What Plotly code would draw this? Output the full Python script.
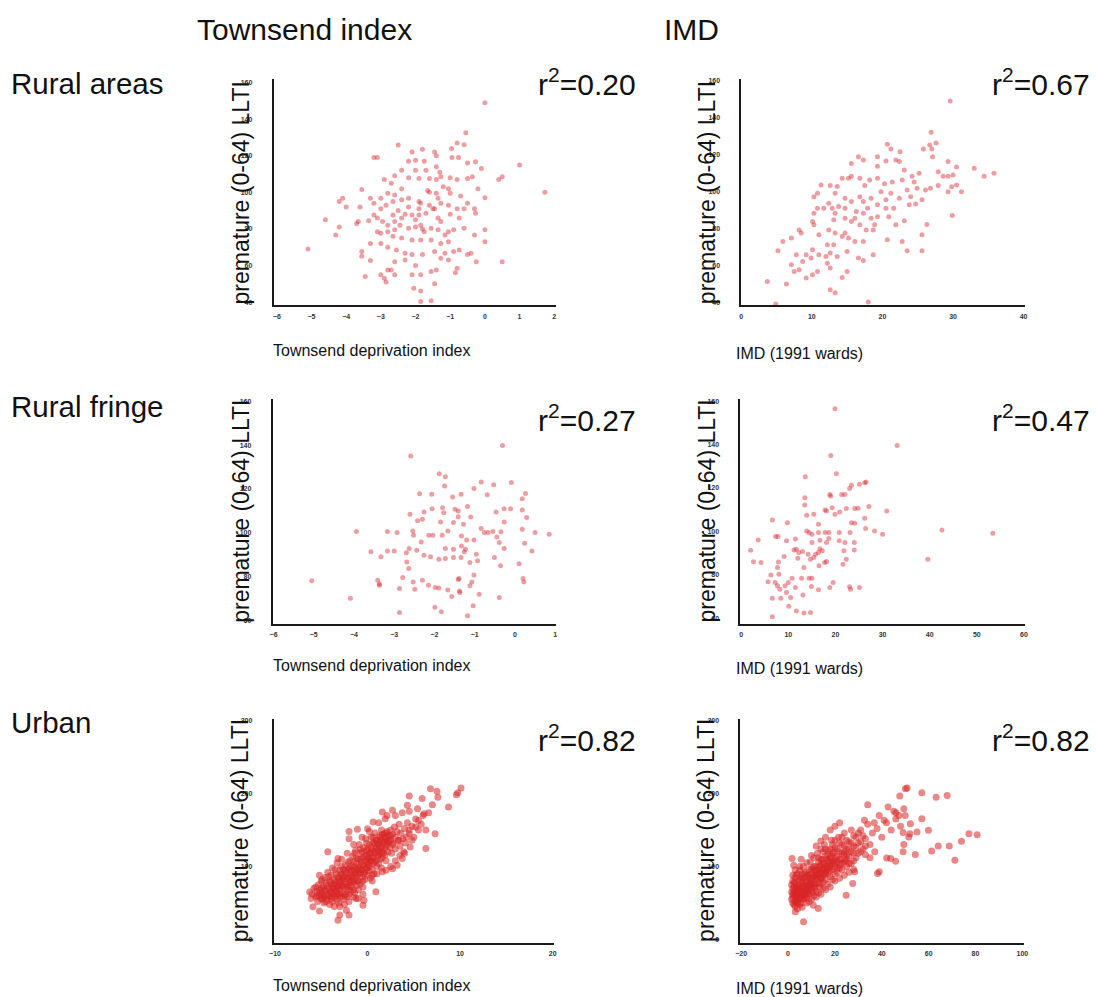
import plotly.graph_objects as go

W, H = 1096, 997

# ---------------- data ----------------
rural_townsend = [
 (0.0,149),(-0.55,132.5),(-2.5,125.8),(-2.1,122),(-1.8,123.6),(-1.45,122),(-0.96,124),(-0.8,127),(-0.6,126),
 (-3.2,119),(-3.1,119),(-2.2,117),(-2.0,117.5),(-1.75,117),(-1.4,114),(-0.95,119),(-0.76,119),(-0.5,116),
 (-0.27,116.7),(-0.1,113),(1.0,115),(0.4,107),(0.5,108.5),(1.73,100),(0.0,97),(-2.9,107),(-2.6,109),(-2.4,112),
 (-2.0,112),(-1.7,112),(-1.3,111),(-1.27,108.5),(-1.0,108),(-0.8,107),(-0.5,107.6),(-0.36,108.5),(-2.2,108),
 (-1.9,107.6),(-1.6,107.6),(-1.4,107),(-3.55,101.6),(-4.1,96.7),(-4.2,95),(-4.0,92),(-3.3,96.7),(-3.2,94),
 (-3.0,96.7),(-2.8,99.5),(-2.6,98.5),(-3.0,91),(-2.85,93),(-2.65,95),(-2.4,96),(-2.2,96.7),(-2.2,92),(-1.9,91),
 (-1.85,94),(-1.65,101),(-1.6,100),(-1.4,99.5),(-1.35,96.7),(-1.05,102),(-1.0,99.5),(-1.27,94),(-1.05,93),
 (-0.8,91),(-0.6,91),(-0.3,91),(-0.27,88.5),(-0.74,86),(-1.45,91),(-1.5,91),(-1.9,87.6),(-1.7,88.5),(-1.35,86),
 (-1.27,84),(-2.65,87.6),(-2.4,86),(-2.1,87.6),(-3.2,87.6),(-4.6,85),(-3.65,84),(-3.7,83),(-3.35,84.4),(-3.1,86),
 (-2.95,84),(-2.8,82),(-2.45,82),(-2.2,80.4),(-2.0,81),(-1.85,82),(-1.75,78.5),(-1.55,80.4),(-1.35,79.5),
 (-1.05,78.5),(-0.9,79.5),(-0.6,80.4),(-0.3,76.7),(0.0,79.5),(0.0,73),(-4.2,81),(-4.3,76.7),(-3.1,78.5),
 (-3.0,77.6),(-2.8,78.5),(-2.6,79.5),(-2.65,76),(-2.4,75),(-2.1,74),(-1.85,74),(-1.55,74),(-1.27,72),(-1.05,73),
 (-1.15,76.7),(-3.0,72),(-5.1,69),(-3.55,67.6),(-2.55,68.5),(-2.3,66.7),(-2.1,66),(-1.8,66),(-1.45,67.6),
 (-1.15,66.7),(-0.9,67.6),(-0.74,68.5),(-0.5,66),(-0.4,66.7),(-1.27,64),(-1.05,63),(-3.3,62.7),(-3.55,65),
 (-2.6,62),(-2.3,63),(-0.25,62),(0.5,62),(-2.0,60),(-2.8,57.6),(-2.7,57.6),(-1.55,56.7),(-1.4,57.6),(-0.8,58.5),
 (-0.85,56),(-3.45,54),(-3.0,55),(-2.9,53),(-2.6,55),(-2.1,55),(-1.85,55),(-1.45,50),(-2.85,51),(-2.05,47.6),
 (-1.85,46),(-1.85,40.3),(-1.55,40.7),(-2.5,90),(-2.3,88),(-2.0,85),(-1.8,80),(-2.6,84),(-1.9,95),(-1.6,93),
 (-2.4,102),(-2.7,105),(-1.2,103),(-0.7,98),(-1.0,88),(-3.3,72),(-2.8,70),(-0.5,94),(-0.2,102),(-3.6,92),(-1.4,120),
]

rural_imd = [
 (29.6,148.7),(26.9,131.8),(27.6,126),(26.7,125),(27,122.8),(25.8,122.8),(27.1,118.6),(20.7,125.3),(21.2,122.8),
 (22.5,121.3),(21.9,116.8),(22.4,116),(23.1,111.4),(20.5,116.3),(19.3,118.6),(16.6,118.6),(17.3,116.8),(15.6,115),
 (14.3,107),(15.2,107),(15.6,108),(12.6,103),(11.3,103.3),(10.3,97),(10.8,98.8),(13.3,98.8),(13.6,102.5),(16.8,107),
 (18.2,106),(19.3,107),(20.3,104),(21.4,105),(22.8,106),(24.2,108),(24.5,105),(23.5,100.6),(24.9,101.5),(26.1,100.6),
 (26.8,101.5),(27.9,103),(28.6,108),(29.3,108),(30,108.7),(30.5,113),(29.3,116),(33,112.3),(34.4,108),(35.8,109.6),
 (29.8,102.4),(30.5,103.3),(31.2,99.7),(29.3,99.7),(29.9,86.8),(26.3,82),(25.6,76.4),(25.6,67.7),(23.5,67.7),
 (22.8,72.8),(20.7,73.7),(21.9,81.8),(23.1,84),(23.8,92.6),(24.7,93),(25.6,95.3),(22.4,96.2),(20.5,95.3),(19.8,99.7),
 (21.2,98.8),(19.3,92.6),(20.5,90.8),(21.6,90.8),(20.9,86.2),(19.3,86.2),(18.4,85.4),(17.3,88),(16.3,89),(17.9,90.8),
 (17.3,94.4),(15.6,94.4),(14.7,96.2),(13.8,91.7),(12.9,90.8),(12.4,93.5),(10.8,90.8),(10.3,88),(10.1,83.6),(10.3,81.8),
 (11.7,90.8),(13.1,84.5),(14.7,85.4),(15.6,83.6),(16.1,85.4),(16.8,81.8),(17.7,79),(18.7,79),(18.9,81.8),(14.7,77.3),
 (13.3,77.3),(15.2,74.6),(14.3,75.5),(13.1,71),(12.2,71),(11.0,76.4),(12.4,79),(8.2,79),(8.5,77.3),(7.1,74.6),
 (5.9,72.8),(5.2,67.7),(7.8,65.6),(9.2,65.6),(10.1,68.3),(9.9,63.8),(11,65.6),(12,64.7),(12.6,66.5),(13.6,64.7),
 (15,67.4),(16.1,72.8),(17.3,72.8),(17.3,62.5),(16.6,63.8),(18.7,65.6),(12.2,61),(12.6,58.4),(10.8,56.6),(10.1,54.8),
 (9.2,53),(8.2,57.5),(7.5,56.6),(7.1,60.2),(8.7,62),(15,56.6),(14.3,53.3),(12.6,46.7),(13.3,45),(3.7,51.2),(6.4,49.8),
 (4.9,39),(18,40),(14.7,90.8),(13.3,88),(17.5,103),(19.3,113.5),(18.4,96.2),(16.8,97),(24,97),(25.2,109.6),(27.9,110.5),
]

fringe_townsend = [
 (-0.31,139.8),(-2.59,135),(-1.88,127),(-1.73,125.6),(-1.75,121.4),(-0.84,123.2),(-0.53,122),(-0.09,123),(-1.02,120.2),
 (-2.37,117.9),(-2.07,117.6),(-1.34,117.6),(-1.55,116.4),(-0.69,117.4),(0.26,118),(0.18,115.6),(-2.61,108.5),
 (-2.26,109.5),(-2.06,111),(-1.8,111.5),(-1.49,110.8),(-1.41,110),(-1.18,112),(-1.1,107.3),(-1.77,109.2),(-1.41,107.4),
 (-0.47,109.5),(-0.27,111),(-0.11,111),(0.18,110.5),(0.29,107),(-0.27,105),(-2.42,105.5),(-2.3,106.2),(-1.85,105),
 (-1.53,104.7),(-1.28,104),(-3.94,100.6),(-3.17,100.6),(-2.93,100.2),(-2.54,100.9),(-2.52,99),(-2.04,99),(-1.81,99),
 (-1.67,100.9),(-1.33,98.6),(-1.2,96.8),(-1.02,96.8),(-0.84,102),(-0.76,100.2),(-0.67,100.2),(-0.55,100.6),
 (-0.35,100.5),(-0.45,98.2),(-0.39,95.6),(-0.27,92.9),(0.18,101.7),(0.5,100.2),(0.85,99.4),(0.24,95.3),(0.42,91.8),
 (0.1,86),(-0.51,88.8),(-0.36,85),(-2.33,95.9),(-2.63,92.9),(-2.44,92.1),(-2.26,89.8),(-2.1,89.2),(-1.89,88),
 (-1.73,88.3),(-1.53,88.8),(-1.34,88.8),(-1.26,91.4),(-1.23,92.6),(-0.96,90.3),(-0.93,87.3),(-1.12,86.5),(-1.73,92.9),
 (-1.53,92.6),(-3.58,91.4),(-3.33,89.2),(-3.17,91.8),(-3.0,91.8),(-2.7,91),(-2.69,86.8),(-2.64,83.8),(-5.05,78.2),
 (-3.41,78.5),(-3.37,76.7),(-2.79,79.7),(-2.53,77.7),(-2.3,78.5),(-2.15,76.2),(-1.98,75.2),(-1.89,74.9),(-1.67,74),
 (-1.57,71.1),(-1.41,78.8),(-1.39,79.2),(-1.38,73.6),(-1.37,72.9),(-1.12,75.9),(-1.02,80.8),(-1.07,77.7),(-0.89,72.1),
 (-2.49,74.4),(-2.87,74.7),(-3.37,76.2),(-4.09,70.2),(-2.87,63.8),(-1.99,66.1),(-1.83,64.1),(-1.04,66.8),(-1.18,62.3),
 (-0.39,70.6),(0.2,79.2),(0.22,77.7),(-2.14,99),(-1.33,94.1),
]

fringe_imd = [
 (19.9,156.5),(33.1,139.6),(19,135),(20.2,126.6),(13.6,125.2),(26.2,122.4),(26.5,122.7),(25.1,121.7),(23.4,121.2),
 (23,119.7),(18.8,117),(19,116.3),(21.3,117),(22,117),(13.5,115.5),(13.5,112.1),(13.9,107.4),(15.4,107.9),(17.8,109.8),
 (18.1,109.4),(19.3,110.9),(19.9,107.9),(20.9,108.9),(22.3,110.5),(24.1,110.5),(24.8,110.6),(27.1,111.4),(30.9,109.4),
 (6.6,105.2),(9.8,104),(26.2,106),(23.4,104),(24.1,103.7),(16.4,103.3),(13.9,100.2),(14.4,99.4),(15,98.7),(16.4,99.4),
 (17.8,99.4),(18.6,99.4),(20.8,99.4),(23.1,99.4),(26.4,101.3),(28.3,100.2),(30,98.7),(42.6,100.6),(53.4,99.1),(3.6,96),
 (7.3,97.6),(7.8,97.6),(9.6,95.6),(11.5,96.4),(15,94.8),(16.7,95.9),(18.1,94.8),(18.6,96.7),(20.8,95.6),(22,94.8),
 (24,94.8),(2,91.3),(2.6,86),(9.1,88.4),(11.2,91.4),(11.7,91.7),(12.2,90.2),(13,90.7),(12,87.6),(14.2,89.4),(14.7,87.1),
 (15.4,87.9),(15.8,89.4),(16.4,90.2),(16.7,92),(17.2,91),(16.5,84.1),(17.7,85.6),(18.1,86.1),(21.8,91),(21.6,84.8),
 (22.3,87.1),(24,91.4),(39.6,87.1),(7.9,85.9),(7.7,83.3),(8,80.2),(6.3,79.8),(5.7,76.7),(7.2,76.4),(7.7,74.9),(8.2,73.3),
 (9.3,74.9),(10,76.4),(10.8,78.3),(11.5,74.1),(9.6,71.8),(6.6,69.1),(8.4,69.1),(10.5,69.5),(10.1,65.4),(11.7,63.2),
 (13.1,70.6),(12.8,78.3),(14.4,78.3),(15,78.4),(14.9,74.6),(16.4,73),(13.3,62.3),(14.7,62.6),(6.6,60.6),(18.8,74.1),
 (19.5,76.4),(23,74.4),(23.2,73.3),(25.1,74.1),(13.3,83.3),(4.2,85.6),
]

urban_townsend = [
 (10.1,207.5),(9.6,198.4),(9.75,201),(6.8,206.6),(7.5,203),(7.6,195),(4.5,196.5),(5.9,193),(8.75,181.5),(7,184.7),
 (5.4,179),(6.1,172.4),(6.6,173.7),(4.3,183.8),(3.75,173.7),(4.5,175.6),(3,170),(2.7,177),(2.1,170),(1.6,174.6),
 (1.9,165.5),(5.5,163),(7.3,145),(6.3,124.5),(5.2,154),(4.5,149.6),(4.2,140.4),(3.4,135.9),(4.8,136),(4.6,126.8),
 (3.9,120),(3.75,110.8),(3.2,101.7),(2.7,97),(2,94.8),(1.6,92.6),(0.6,161),(0,151.8),(-1.1,151),(-2,148),(-2,138),
 (-3.2,110.8),(-4.3,120),(-5.2,88),(-6.25,65),(-6.1,56),(-5.9,44.7),(-5.2,38.8),(-3,33.3),(-3.2,26.4),(-2,33.3),
 (-0.5,47),(-0.4,53.8),(0.9,65.2),(-1.25,56),(-2.3,40),
 (-6.0,62),(-5.8,70),(-5.6,58),(-5.5,66),(-5.4,52),(-5.3,75),(-5.2,60),(-5.1,68),(-5.0,55),(-5.0,80),(-4.9,63),
 (-4.8,72),(-4.7,50),(-4.7,58),(-4.6,85),(-4.5,66),(-4.5,77),(-4.4,55),(-4.3,62),(-4.3,92),(-4.2,70),(-4.1,48),
 (-4.1,80),(-4.0,58),(-4.0,65),(-3.9,74),(-3.9,88),(-3.8,52),(-3.8,98),(-3.7,62),(-3.7,70),(-3.6,82),(-3.6,45),
 (-3.5,58),(-3.5,76),(-3.4,66),(-3.4,90),(-3.3,54),(-3.3,105),(-3.2,72),(-3.2,62),(-3.1,84),(-3.1,50),(-3.0,68),
 (-3.0,95),(-3.0,78),(-2.9,58),(-2.9,88),(-2.8,73),(-2.8,110),(-2.7,64),(-2.7,82),(-2.6,55),(-2.6,96),(-2.5,70),
 (-2.5,86),(-2.4,62),(-2.4,102),(-2.3,76),(-2.3,92),(-2.2,58),(-2.2,118),(-2.1,68),(-2.1,84),(-2.0,74),(-2.0,98),
 (-2.0,62),(-1.9,90),(-1.9,108),(-1.8,80),(-1.8,66),(-1.7,95),(-1.7,72),(-1.6,86),(-1.6,114),(-1.5,78),(-1.5,100),
 (-1.4,64),(-1.4,92),(-1.3,84),(-1.3,122),(-1.2,74),(-1.2,104),(-1.1,96),(-1.1,88),(-1.0,80),(-1.0,110),(-1.0,68),
 (-0.9,100),(-0.9,130),(-0.8,90),(-0.8,76),(-0.7,106),(-0.7,118),(-0.6,86),(-0.6,96),(-0.5,112),(-0.5,72),
 (-0.4,102),(-0.4,126),(-0.3,92),(-0.3,82),(-0.2,108),(-0.2,138),(-0.1,98),(-0.1,116),(0.0,88),(0.0,104),(0.0,124),
 (0.1,94),(0.1,112),(0.2,130),(0.2,100),(0.3,84),(0.3,118),(0.4,108),(0.4,140),(0.5,96),(0.5,122),(0.6,112),
 (0.6,104),(0.7,132),(0.7,90),(0.8,118),(0.8,146),(0.9,108),(0.9,126),(1.0,100),(1.0,136),(1.1,114),(1.1,122),
 (1.2,130),(1.2,104),(1.3,142),(1.3,118),(1.4,110),(1.4,126),(1.5,136),(1.5,150),(1.6,120),(1.6,112),(1.7,132),
 (1.8,124),(1.8,144),(1.9,116),(2.0,138),(2.0,128),(2.1,148),(2.2,120),(2.2,134),(2.3,142),(2.4,126),(2.5,150),
 (2.5,136),(2.6,118),(2.7,144),(2.8,132),(2.9,154),(3.0,140),(3.0,124),(3.2,148),(3.3,136),(3.4,158),(3.5,128),
 (3.6,146),(3.8,138),(4.0,152),(4.1,132),(4.3,160),(4.5,145),(4.8,155),(5.0,140),(5.2,165),(5.5,150),(5.8,158),
 (6.0,170),(6.3,150),(2.0,108),(1.5,98),(1.0,90),(0.5,80),(-0.5,62),(-1.0,56),(-1.5,58),(-2.0,52),(-2.5,48),
 (-3.0,45),(1.2,160),(0.2,148),(-0.6,140),(-1.5,130),(2.5,100),(3.0,108),(3.5,115),(4.0,118),
 (-5.5,60),(-5.2,64),(-5.0,70),(-4.8,60),(-4.6,68),(-4.4,74),(-4.2,60),(-4.0,78),(-3.9,64),(-3.8,70),(-3.6,76),
 (-3.5,66),(-3.4,80),(-3.3,70),(-3.2,86),(-3.1,74),(-3.0,62),(-2.9,80),(-2.8,90),(-2.7,74),(-2.6,86),(-2.5,78),
 (-2.4,94),(-2.3,84),(-2.2,72),(-2.1,96),(-2.0,86),(-1.9,78),(-1.8,100),(-1.7,88),(-1.6,80),(-1.5,106),(-1.4,96),
 (-1.3,90),(-1.2,112),(-1.1,80),(-1.0,98),(-0.9,92),(-0.8,110),(-0.7,96),(-0.6,120),(-0.5,102),(-0.4,90),(-0.3,114),
 (-0.2,96),(-0.1,122),(0.0,110),(0.1,102),(0.2,118),(0.3,108),(0.4,126),(0.5,112),(0.6,132),(0.7,120),(0.8,106),
 (0.9,136),(1.0,124),(1.1,130),(1.2,116),(1.3,134),(1.4,140),(1.5,126),(1.6,144),(1.7,118),(1.8,134),(1.9,140),
 (2.0,146),(2.1,130),(2.3,136),(2.5,142),(2.7,130),(-4.9,56),(-4.5,52),(-3.9,56),(-3.3,60),(-2.5,60),(-1.5,68),
 (-0.5,80),(0.5,88),(-5.6,72),(-4.9,82),(-4.2,86),(-3.5,96),(-2.8,100),(-2.1,106),(-1.4,118),(-0.8,124),(-0.1,132),
 (0.6,140),
]

urban_imd = [
 (50.1,206.6),(50.8,207.5),(47.7,196.5),(57.1,201),(63.2,195),(67.9,197.4),(34,184.7),(42.7,181.5),(45.2,175.6),
 (49.4,179.2),(47.3,170),(46,173.7),(38.9,170),(41,163.3),(32.6,163.3),(36.8,160),(57.1,165.5),(52.2,158.7),
 (55,147.3),(59.9,149.6),(49.1,146.4),(51.5,140.4),(77.2,145),(80.7,143.6),(74,134.5),(68.8,128),(64.1,128),
 (61.3,121.3),(71.2,108.5),(54.3,116.3),(49.4,130),(49.1,120),(45.9,107.2),(43.8,110.8),(42.1,111.7),(38.2,90.3),
 (38.9,92.6),(28.4,92.6),(24.8,60.6),(27.6,76.6),(1.7,110.8),(5.6,110),(2.4,101.7),(3.1,37.8),(6.6,24.2),(12.9,42.4),
 (10.8,47),
 (1.5,55),(2,62),(2,70),(2.5,48),(2.5,78),(3,58),(3,66),(3,85),(3.5,52),(3.5,72),(4,60),(4,90),(4,68),(4.5,56),
 (4.5,80),(5,64),(5,74),(5,95),(5.5,50),(5.5,86),(6,60),(6,70),(6,78),(6.5,66),(6.5,100),(7,56),(7,74),(7,84),
 (7.5,62),(7.5,92),(8,70),(8,80),(8,58),(8.5,88),(8.5,66),(9,76),(9,96),(9,62),(9.5,84),(9.5,106),(10,70),(10,90),
 (10,80),(10.5,64),(10.5,98),(11,76),(11,86),(11,112),(11.5,72),(11.5,94),(12,82),(12,100),(12,66),(12.5,90),
 (12.5,118),(13,78),(13,96),(13,106),(13.5,86),(13.5,72),(14,92),(14,102),(14,124),(14.5,84),(14.5,110),(15,96),
 (15,78),(15,88),(15.5,104),(15.5,130),(16,92),(16,114),(16,82),(16.5,100),(17,108),(17,90),(17,122),(17.5,98),
 (18,112),(18,86),(18.5,104),(18.5,136),(19,96),(19,118),(19.5,108),(20,100),(20,126),(20,90),(21,114),(21,106),
 (21.5,140),(22,98),(22,120),(22.5,110),(23,130),(23,104),(24,116),(24,146),(24.5,108),(25,124),(25,100),(26,134),
 (26,114),(27,120),(27,150),(28,128),(28,108),(29,140),(30,118),(30,132),(31,150),(32,124),(33,138),(34,158),
 (35,130),(36,146),(37,120),(38,152),(40,140),(42,160),(44,150),(46,165),(48,155),(50,170),(52,145),(3,45),(4,42),
 (5,48),(6,44),(8,50),(10,55),(12,58),(14,62),(16,68),(18,72),(20,80),(22,84),(24,88),(26,92),(28,96),(6,90),
 (8,105),(10,115),(12,128),(14,135),(16,140),(18,150),(20,155),(22,160),(3,95),(2,88),(1.5,75),(2.5,65),(3.5,62),
 (4.5,70),(5.5,60),(6.5,55),(7.5,68),(9,52),(11,60),(13,64),(15,70),(17,76),(19,82),(21,92),(23,96),(25,110),
 (27,104),(29,112),(31,120),(33,116),(35,112),
 (2,58),(2.5,72),(3,62),(3,78),(3.5,68),(4,55),(4,74),(4.5,64),(5,58),(5,82),(5.5,70),(6,66),(6,84),(6.5,74),(7,62),
 (7,90),(7.5,78),(8,66),(8,86),(8.5,74),(9,70),(9,88),(9.5,78),(10,66),(10,96),(10.5,84),(11,72),(11,100),(11.5,88),
 (12,76),(12,94),(12.5,84),(13,90),(13,112),(13.5,100),(14,84),(14,110),(14.5,96),(15,104),(15,120),(15.5,92),
 (16,100),(16,124),(16.5,110),(17,98),(17,116),(17.5,106),(18,100),(18,124),(18.5,114),(19,106),(19,130),(19.5,120),
 (20,112),(20,136),(21,98),(21,124),(22,110),(22,132),(23,118),(23,140),(24,106),(24,128),(25,136),(25,116),(26,124),
 (27,132),(28,118),(28,142),(29,126),(30,146),(31,134),(32,142),(33,128),(1.5,65),(2,80),(3.5,88),(5,100),(6,56),
 (8,62),(10,74),(12,88),(14,76),(16,90),(18,94),(20,104),(22,102),(24,120),(26,104),(4,50),(3,52),(2,50),
]

townsend_ticks_rural = [-6, -5, -4, -3, -2, -1, 0, 1, 2]
townsend_ticks_fringe = [-6, -5, -4, -3, -2, -1, 0, 1]
townsend_ticks_urban = [-10, 0, 10, 20]
imd_ticks_rural = [0, 10, 20, 30, 40]
imd_ticks_fringe = [0, 10, 20, 30, 40, 50, 60]
imd_ticks_urban = [-20, 0, 20, 40, 60, 80, 100]
llti_ticks_rural = [40, 60, 80, 100, 120, 140, 160]
llti_ticks_fringe = [60, 80, 100, 120, 140, 160]
llti_ticks_urban = [0, 100, 200, 300]

r2_values = ["0.20", "0.67", "0.27", "0.47", "0.82", "0.82"]
column_titles = ["Townsend index", "IMD"]
row_titles = ["Rural areas", "Rural fringe", "Urban"]
x_titles = ["Townsend deprivation index", "IMD (1991 wards)"]
y_title = "premature (0-64) LLTI"

# ---------------- layout geometry (pixels) ----------------
def rng(a_px, b_px, v0, p0, v1, p1):
    s = (v1 - v0) / (p1 - p0)
    return [v0 + (a_px - p0) * s, v0 + (b_px - p0) * s]

panels = [
    # data, left, right, top, bottom, xcal, ycal, xticks, yticks
    (rural_townsend, 271, 556, 77, 304, (-6, 274.3, 2, 554.3), (40, 300.7, 160, 80.7), townsend_ticks_rural, llti_ticks_rural),
    (rural_imd, 743, 1029, 77, 304, (0, 743, 40, 1028), (40, 300.7, 160, 78.3), imd_ticks_rural, llti_ticks_rural),
    (fringe_townsend, 270, 556, 398, 623, (-6, 271, 1, 555.3), (60, 620, 160, 400), townsend_ticks_fringe, llti_ticks_fringe),
    (fringe_imd, 742, 1029, 398, 623, (0, 743, 60, 1028.3), (60, 617.3, 160, 400), imd_ticks_fringe, llti_ticks_fringe),
    (urban_townsend, 271, 554, 718, 943, (-10, 272.5, 20, 552.7), (0, 939.3, 300, 720), townsend_ticks_urban, llti_ticks_urban),
    (urban_imd, 742, 1028, 718, 943, (-20, 743, 100, 1026.7), (0, 939.3, 300, 720), imd_ticks_urban, llti_ticks_urban),
]

fig = go.Figure()
layout = {}
for i, (pts, L, R, T, B, xc, yc, xt, yt) in enumerate(panels):
    n = "" if i == 0 else str(i + 1)
    xs = [p[0] for p in pts]
    ys = [p[1] for p in pts]
    urban = i >= 4
    fig.add_trace(go.Scatter(
        x=xs, y=ys, mode="markers", xaxis="x" + n, yaxis="y" + n,
        marker=dict(size=7 if urban else 5, symbol="circle",
                    color="rgba(216,36,36,0.55)" if urban else "rgba(214,40,50,0.45)",
                    line=dict(width=0)),
        hoverinfo="skip", showlegend=False))
    xr = rng(L, R, xc[0], xc[1], xc[2], xc[3])
    yr = rng(B, T, yc[0], yc[1], yc[2], yc[3])
    common = dict(showgrid=False, zeroline=False, showline=True, linecolor="#1a1a1a", linewidth=1.5,
                  ticks="", tickfont=dict(family="Liberation Sans", size=7, color="#333", weight="bold"))
    layout["xaxis" + n] = dict(domain=[L / W, R / W], range=xr, anchor="y" + n,
                               tickvals=xt, ticklabelstandoff=3, **common)
    layout["yaxis" + n] = dict(domain=[1 - B / H, 1 - T / H], range=yr, anchor="x" + n,
                               tickvals=yt, ticklabelstandoff=18, **common)

ann = []
def add_text(text, x, y, size, xanchor="left", yanchor="middle", angle=0):
    ann.append(dict(text=text, x=x / W, y=1 - y / H, xref="paper", yref="paper",
                    xanchor=xanchor, yanchor=yanchor, showarrow=False, textangle=angle,
                    font=dict(family="Liberation Sans", size=size, color="#111")))

add_text(column_titles[0], 192, 28, 30)
add_text(column_titles[1], 663, 28, 30)
for t, yy in zip(row_titles, [82, 405, 722]):
    add_text(t, 4, yy, 29.5)

row_centers = [(80, 191, 349), (417, 510, 665), (737, 830, 985)]
for r, (ry, yc_, xy) in enumerate(row_centers):
    add_text("r<sup>2</sup>=" + r2_values[2 * r], 639, ry, 30, xanchor="right")
    add_text("r<sup>2</sup>=" + r2_values[2 * r + 1], 1097, ry, 30, xanchor="right")
    add_text(y_title, 238, yc_, 23, xanchor="center", angle=-90)
    add_text(y_title, 708, yc_, 23, xanchor="center", angle=-90)
    add_text(x_titles[0], 268, xy, 16)
    add_text(x_titles[1], 736, xy + 3, 16)

fig.update_layout(width=W, height=H, margin=dict(l=0, r=0, t=0, b=0),
                  paper_bgcolor="white", plot_bgcolor="white", annotations=ann, **layout)
fig.write_html("out.html", config={"displayModeBar": False},
               post_script="document.body.style.margin='0px';document.body.style.overflow='hidden';")
